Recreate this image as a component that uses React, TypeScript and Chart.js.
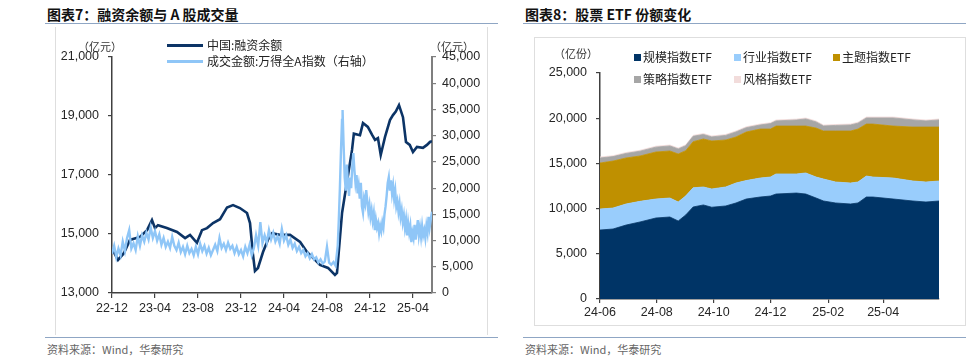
import React, { useEffect, useRef } from "react";
import { Chart, registerables } from "chart.js";

Chart.register(...registerables);

const LATIN = "'Liberation Sans', Arial, sans-serif";
const CJK = "'Noto Sans CJK SC', 'Liberation Sans', sans-serif";

// ---------- 图表7：融资余额与 A 股成交量 ----------
// x = months since 2022-12
const marginTickLabels = ["22-12", "23-04", "23-08", "23-12", "24-04", "24-08", "24-12", "25-04"];
const marginMonths = [0, 0.56, 1.1, 1.67, 2.6, 3.26, 3.72, 4.0, 4.28, 5.1, 6.05, 6.8, 7.26, 7.9, 8.37, 8.84, 9.4, 10.05, 10.7, 11.26, 11.9, 12.56, 12.84, 13.1, 13.3, 13.58, 14.05, 14.5, 14.9, 15.6, 16.56, 17.5, 18.14, 18.7, 19.35, 20.1, 20.74, 20.93, 21.4, 22.33, 22.5, 23.07, 23.35, 23.8, 24.2, 24.47, 24.74, 25.0, 25.4, 25.86, 26.14, 26.4, 26.7, 27.07, 27.35, 27.7, 28.0, 28.37, 28.93, 29.3, 29.58, 29.77];
const marginBalance = [14500, 14120, 14350, 14800, 14900, 15130, 15470, 15200, 15300, 15200, 15070, 14860, 14970, 14700, 15130, 15200, 15370, 15500, 15900, 15980, 15880, 15710, 15370, 14350, 13750, 13850, 14390, 14800, 15030, 14970, 14970, 14730, 14390, 14190, 13950, 13850, 13610, 13680, 15710, 17850, 18400, 18350, 18760, 18630, 18360, 18190, 18250, 17680, 18290, 18860, 19030, 19150, 19370, 18960, 18120, 18020, 17780, 17950, 17920, 18020, 18120, 18150];
const turnoverMonths = [
  0, 0.2, 0.4, 0.6, 0.8, 1.0, 1.2, 1.4, 1.6, 1.8, 2.0, 2.2, 2.4, 2.6, 2.8, 3.0, 3.2, 3.4, 3.6, 3.8,
  4.0, 4.2, 4.4, 4.6, 4.8, 5.0, 5.2, 5.4, 5.6, 5.8, 6.0, 6.2, 6.4, 6.6, 6.8, 7.0, 7.2, 7.4, 7.6, 7.8,
  8.0, 8.2, 8.4, 8.6, 8.8, 9.0, 9.2, 9.4, 9.6, 9.8, 10.0, 10.2, 10.4, 10.6, 10.8, 11.0, 11.2, 11.4, 11.6, 11.8,
  12.0, 12.2, 12.4, 12.6, 12.8, 13.0, 13.2, 13.4, 13.6, 13.8, 14.0, 14.2, 14.4, 14.6, 14.8, 15.0, 15.2, 15.4, 15.6, 15.8,
  16.0, 16.2, 16.4, 16.6, 16.8, 17.0, 17.2, 17.4, 17.6, 17.8, 18.0, 18.2, 18.4, 18.6, 18.8, 19.0, 19.2, 19.4, 19.6, 19.8, 20.0, 20.2, 20.4, 20.6, 20.8,
  21.0, 21.1, 21.2, 21.3, 21.4, 21.45, 21.55, 21.65, 21.75, 21.85, 21.95, 22.05, 22.15, 22.25, 22.35, 22.45, 22.55, 22.65, 22.75, 22.85, 22.95,
  23.05, 23.15, 23.25, 23.35, 23.45, 23.55, 23.65, 23.75, 23.85, 23.95, 24.05, 24.15, 24.25, 24.35, 24.45, 24.55, 24.65, 24.75, 24.85, 24.95,
  25.05, 25.15, 25.25, 25.35, 25.45, 25.55, 25.65, 25.75, 25.85, 25.95, 26.05, 26.15, 26.25, 26.35, 26.45, 26.55, 26.65, 26.75, 26.85, 26.95,
  27.05, 27.15, 27.25, 27.35, 27.45, 27.55, 27.65, 27.75, 27.85, 27.95, 28.05, 28.15, 28.25, 28.35, 28.45, 28.55, 28.65, 28.75, 28.85, 28.95,
  29.05, 29.15, 29.25, 29.35, 29.45, 29.55, 29.65, 29.77,
];
const turnoverValues = [
  7500, 9000, 6800, 8500, 7200, 9800, 8000, 10500, 12000, 8500, 9500, 8200, 10800, 9000, 11000, 9800, 11500, 10200, 12500, 10500,
  11800, 10000, 11200, 9200, 10500, 8800, 9800, 8600, 10700, 9000, 8200, 9600, 7800, 8800, 7400, 9000, 7600, 8400, 7200, 8800,
  7400, 9400, 8000, 9000, 7500, 8600, 7200, 8200, 9200, 8000, 10500, 8600, 9400, 8200, 9600, 8400, 9000, 7600, 8800, 7400,
  8200, 7000, 8800, 7600, 9200, 7200, 8600, 11000, 9000, 13500, 9500, 11000, 9600, 12000, 10200, 11500, 9800, 10800, 9400, 12200,
  10000, 11000, 9200, 10200, 8600, 9400, 8000, 8800, 7600, 8200, 7000, 7600, 6600, 7400, 6400, 6800, 5800, 6400, 5600, 6000, 8800, 5800, 5400, 5900, 5200,
  9000, 14000, 20000, 27000, 33000, 34900, 28000, 22000, 19500, 24500, 21000, 18500, 22000, 20000, 24000, 26700, 23500, 21000, 22500, 19000, 20500,
  18000, 21000, 16500, 15300, 18000, 17000, 19600, 17500, 15500, 16800, 14500, 15800, 13800, 15200, 12000, 14000, 12500, 13300, 11400, 12800,
  11800, 13500, 12500, 15000, 16500, 18500, 21000, 22100, 19500, 21500, 19000, 20500, 18000, 19500, 16500, 17500, 15500, 17000, 14500, 15800,
  13500, 14800, 12500, 14000, 11000, 13300, 11500, 12800, 9700, 11500, 10500, 13000, 10200, 12000, 13900, 11000, 12500, 10700, 12800, 11000,
  12000, 10500, 12800, 11500, 14500, 12500, 14000, 15500,
];

// ---------- 图表8：股票 ETF 份额变化 ----------
// x = days since 2024-06-01
const etfTickLabels = ["24-06", "24-08", "24-10", "24-12", "25-02", "25-04"];
const etfTickDays = [0, 61, 122, 183, 245, 304];
const etfDays = [0, 14, 28, 43, 60, 75, 84, 92, 100, 111, 120, 135, 146, 157, 172, 183, 189, 211, 221, 232, 240, 253, 269, 277, 286, 293, 315, 336, 350, 364];
const etfScale = [7630, 7740, 8180, 8520, 8960, 9070, 8630, 9290, 10180, 10400, 10150, 10290, 10620, 11060, 11280, 11390, 11610, 11720, 11610, 11170, 10840, 10620, 10510, 10620, 11280, 11280, 11060, 10840, 10730, 10840];
const etfIndustry = [2320, 2320, 2330, 2280, 2100, 2100, 2100, 2110, 2120, 1990, 2020, 2100, 2210, 2040, 2100, 2100, 2220, 2110, 2330, 2320, 2430, 2320, 2320, 2320, 2320, 2210, 2320, 2210, 2210, 2210];
const etfTheme = [5090, 5200, 5090, 5020, 5200, 5200, 5310, 5000, 5100, 5310, 5310, 5200, 5090, 5370, 5420, 5310, 5300, 5300, 5190, 5420, 5310, 5640, 5750, 5860, 5750, 5860, 5750, 5970, 6080, 5970];
const etfStrategy = [560, 490, 500, 530, 540, 560, 560, 550, 600, 500, 450, 510, 560, 480, 450, 600, 570, 670, 790, 680, 560, 620, 670, 650, 680, 680, 900, 790, 680, 790];
const etfStyle = [100, 100, 100, 100, 100, 100, 100, 100, 100, 100, 100, 100, 100, 100, 100, 100, 100, 100, 100, 100, 100, 100, 100, 100, 100, 100, 100, 100, 100, 100];

const pairs = (xs: number[], ys: number[]) => xs.map((x, i) => ({ x, y: ys[i] }));
const fmt = (v: any) => Number(v).toLocaleString("en-US");

const tickFont = { family: LATIN, size: 12.5 };
const TICK_COLOR = "#262626";

function Txt(props: { x: number; y: number; size: number; children: any; style?: any }) {
  const { x, y, size, children, style } = props;
  return (
    <div
      style={{
        position: "absolute",
        left: x,
        top: y - size * 0.65,
        fontSize: size,
        lineHeight: `${size * 1.3}px`,
        whiteSpace: "nowrap",
        fontFamily: CJK,
        color: "#1a1a1a",
        ...style,
      }}
    >
      {children}
    </div>
  );
}

function Box(props: { x: number; y: number; w: number; h: number; style?: any }) {
  const { x, y, w, h, style } = props;
  return <div style={{ position: "absolute", left: x, top: y, width: w, height: h, ...style }} />;
}

function MarginChart() {
  const ref = useRef<HTMLCanvasElement>(null);
  useEffect(() => {
    const chart = new Chart(ref.current as HTMLCanvasElement, {
      type: "line",
      data: {
        datasets: [
          {
            label: "中国:融资余额",
            data: pairs(marginMonths, marginBalance),
            yAxisID: "y",
            borderColor: "#0c3466",
            borderWidth: 2.6,
            pointRadius: 0,
            tension: 0,
            order: 2,
          },
          {
            label: "成交金额:万得全A指数（右轴）",
            data: pairs(turnoverMonths, turnoverValues),
            yAxisID: "y1",
            borderColor: "#8fc6f7",
            borderWidth: 2.4,
            pointRadius: 0,
            tension: 0,
            order: 1,
          },
        ],
      } as any,
      options: {
        animation: false,
        responsive: false,
        maintainAspectRatio: false,
        layout: { padding: { top: 32, left: 0, right: 0, bottom: 0 } },
        plugins: { legend: { display: false }, tooltip: { enabled: false } },
        scales: {
          x: {
            type: "linear",
            min: 0,
            max: 29.77,
            afterBuildTicks: (s: any) => {
              s.ticks = marginTickLabels.map((_, i) => ({ value: i * 4 }));
            },
            afterFit: (s: any) => {
              s.height = 42;
            },
            ticks: {
              autoSkip: false,
              maxRotation: 0,
              padding: 3,
              font: tickFont,
              color: TICK_COLOR,
              callback: (v: any) => marginTickLabels[Math.round(Number(v) / 4)],
            },
            grid: { drawOnChartArea: false, drawTicks: true, tickLength: 5, color: "#404040", lineWidth: 1.2 },
            border: { display: true, color: "#404040", width: 1.5 },
          },
          y: {
            position: "left",
            min: 13000,
            max: 21000,
            afterFit: (s: any) => {
              s.width = 56;
            },
            ticks: { stepSize: 2000, padding: 9, font: tickFont, color: TICK_COLOR, callback: fmt },
            grid: { drawOnChartArea: false, drawTicks: true, tickLength: 4, color: "#404040", lineWidth: 1.2 },
            border: { display: true, color: "#404040", width: 1.5 },
          },
          y1: {
            position: "right",
            min: 0,
            max: 45000,
            afterFit: (s: any) => {
              s.width = 54;
            },
            ticks: { stepSize: 5000, padding: 6, font: tickFont, color: TICK_COLOR, callback: fmt },
            grid: { drawOnChartArea: false, drawTicks: true, tickLength: 4, color: "#7f7f7f", lineWidth: 1.2 },
            border: { display: true, color: "#7f7f7f", width: 2 },
          },
        },
      } as any,
    });
    return () => chart.destroy();
  }, []);
  return (
    <canvas
      ref={ref}
      width={430}
      height={310}
      style={{ position: "absolute", left: 56, top: 25, width: 430, height: 310 }}
    />
  );
}

function EtfChart() {
  const ref = useRef<HTMLCanvasElement>(null);
  useEffect(() => {
    const mk = (label: string, vals: number[], color: string, fill: any) => ({
      label,
      data: pairs(etfDays, vals),
      backgroundColor: color,
      borderColor: color,
      borderWidth: 0.8,
      pointRadius: 0,
      tension: 0,
      fill,
    });
    const chart = new Chart(ref.current as HTMLCanvasElement, {
      type: "line",
      data: {
        datasets: [
          mk("规模指数ETF", etfScale, "#003466", "origin"),
          mk("行业指数ETF", etfIndustry, "#99cdfc", "-1"),
          mk("主题指数ETF", etfTheme, "#bf9000", "-1"),
          mk("策略指数ETF", etfStrategy, "#a6a6a6", "-1"),
          mk("风格指数ETF", etfStyle, "#f2dcdb", "-1"),
        ],
      } as any,
      options: {
        animation: false,
        responsive: false,
        maintainAspectRatio: false,
        layout: { padding: { top: 35, left: 0, right: 23, bottom: 0 } },
        plugins: { legend: { display: false }, tooltip: { enabled: false } },
        scales: {
          x: {
            type: "linear",
            min: 0,
            max: 364,
            afterBuildTicks: (s: any) => {
              s.ticks = etfTickDays.map((d) => ({ value: d }));
            },
            afterFit: (s: any) => {
              s.height = 24;
            },
            ticks: {
              autoSkip: false,
              maxRotation: 0,
              padding: 2,
              font: tickFont,
              color: TICK_COLOR,
              callback: (_v: any, i: number) => etfTickLabels[i],
            },
            grid: { drawOnChartArea: false, drawTicks: true, tickLength: 4, color: "#404040", lineWidth: 1.2 },
            border: { display: true, color: "#404040", width: 1.5 },
          },
          y: {
            stacked: true,
            min: 0,
            max: 25000,
            afterFit: (s: any) => {
              s.width = 65;
            },
            ticks: { stepSize: 5000, padding: 9, font: tickFont, color: TICK_COLOR, callback: fmt },
            grid: { drawOnChartArea: false, drawTicks: true, tickLength: 4, color: "#404040", lineWidth: 1.2 },
            border: { display: true, color: "#404040", width: 1.5 },
          },
        },
      } as any,
    });
    return () => chart.destroy();
  }, []);
  return (
    <canvas
      ref={ref}
      width={427}
      height={285}
      style={{ position: "absolute", left: 535, top: 38, width: 427, height: 285 }}
    />
  );
}

const RULE = "#8fa6c4";
const PANEL = "#dedede";

export default function App() {
  const legendSq = (x: number, y: number, color: string) => (
    <Box x={x} y={y - 3.5} w={7} h={7} style={{ background: color }} />
  );
  return (
    <div
      style={{
        position: "absolute",
        left: 0,
        top: 0,
        width: 966,
        height: 360,
        background: "#ffffff",
        overflow: "hidden",
      }}
    >
      {/* titles */}
      <Txt x={47} y={14} size={14} style={{ fontWeight: 700, color: "#111" }}>
        图表7：融资余额与 A 股成交量
      </Txt>
      <Txt x={525} y={14} size={14} style={{ fontWeight: 700, color: "#111" }}>
        图表8：股票 ETF 份额变化
      </Txt>
      <Box x={45} y={22.5} w={453} h={1.5} style={{ background: RULE }} />
      <Box x={523} y={22.5} w={443} h={1.5} style={{ background: RULE }} />

      {/* panels */}
      <Box x={55} y={27} w={1} h={308} style={{ background: PANEL }} />
      <Box x={487} y={27} w={1} h={308} style={{ background: PANEL }} />
      <Box x={534} y={37} w={430} h={287} style={{ border: `1px solid ${PANEL}` }} />

      {/* bottom rules + sources */}
      <Box x={45} y={336.5} w={453} h={1.5} style={{ background: RULE }} />
      <Box x={523} y={336.5} w={443} h={1.5} style={{ background: RULE }} />
      <Txt x={47} y={349} size={11} style={{ color: "#666" }}>
        资料来源：Wind，华泰研究
      </Txt>
      <Txt x={525} y={349} size={11} style={{ color: "#666" }}>
        资料来源：Wind，华泰研究
      </Txt>

      <MarginChart />
      <EtfChart />

      {/* left chart overlays */}
      <Txt x={78} y={46} size={11} style={{ color: "#333" }}>
        （亿元）
      </Txt>
      <Txt x={430} y={46} size={11} style={{ color: "#333" }}>
        （亿元）
      </Txt>
      <Box x={167} y={43.5} w={36} h={3} style={{ background: "#0c3466" }} />
      <Txt x={207} y={45} size={12} style={{ color: "#222" }}>
        中国:融资余额
      </Txt>
      <Box x={167} y={59.5} w={36} h={3} style={{ background: "#8fc6f7" }} />
      <Txt x={207} y={61} size={12} style={{ color: "#222" }}>
        成交金额:万得全A指数（右轴）
      </Txt>

      {/* right chart overlays */}
      <Txt x={554} y={53} size={11} style={{ color: "#333" }}>
        （亿份）
      </Txt>
      {legendSq(634, 57, "#003466")}
      <Txt x={643} y={57} size={12} style={{ color: "#222" }}>
        规模指数ETF
      </Txt>
      {legendSq(734, 57, "#99cdfc")}
      <Txt x={743} y={57} size={12} style={{ color: "#222" }}>
        行业指数ETF
      </Txt>
      {legendSq(833, 57, "#bf9000")}
      <Txt x={842} y={57} size={12} style={{ color: "#222" }}>
        主题指数ETF
      </Txt>
      {legendSq(634, 79, "#a6a6a6")}
      <Txt x={643} y={79} size={12} style={{ color: "#222" }}>
        策略指数ETF
      </Txt>
      {legendSq(734, 79, "#f2dcdb")}
      <Txt x={743} y={79} size={12} style={{ color: "#222" }}>
        风格指数ETF
      </Txt>
    </div>
  );
}
